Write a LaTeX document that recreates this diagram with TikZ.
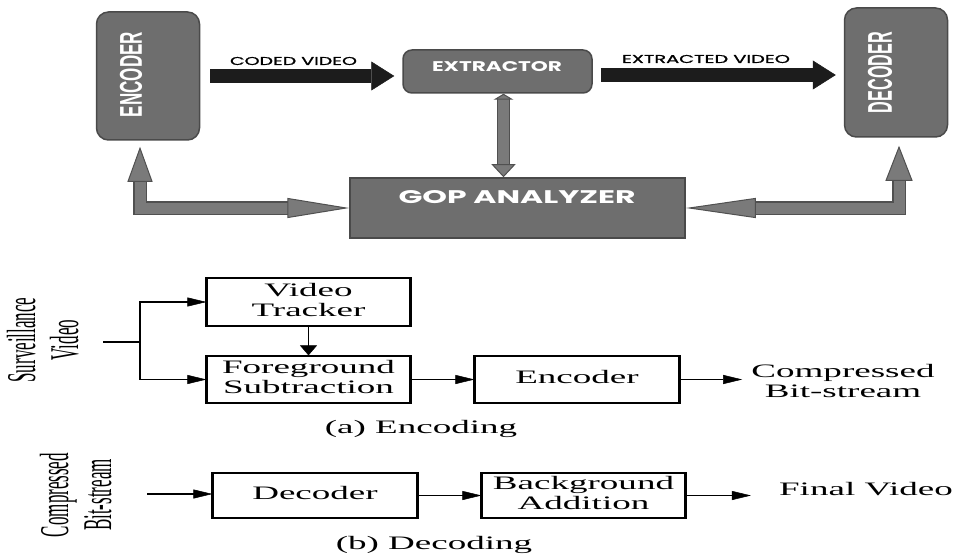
\documentclass[tikz,border=0pt]{standalone}
\usepackage{fontspec}
\setmainfont{Liberation Serif}
\newfontfamily\popfont{Poppins}
\newfontfamily\popmed[FakeBold=1]{Poppins}
\newfontfamily\arialfont{Liberation Sans}
\usetikzlibrary{arrows.meta}
\definecolor{boxgray}{HTML}{6E6E6E}
\definecolor{boxedge}{HTML}{4A4A4A}
\definecolor{arrgray}{HTML}{7A7A7A}
\definecolor{arredge}{HTML}{505050}
\definecolor{blk}{HTML}{1C1C1C}
\newcommand\wide[1]{\scalebox{1.95}[1]{\begin{tabular}{@{}c@{}}#1\end{tabular}}}
\newcommand\widerot[1]{\scalebox{2.4}[1]{\rotatebox{90}{\begin{tabular}{@{}c@{}}#1\end{tabular}}}}
\begin{document}
\begin{tikzpicture}[x=1pt,y=-1pt,
 darkbox/.style={draw=boxedge, fill=boxgray, line width=1.5pt, inner sep=0pt},
 blackarrow/.style={draw=blk, line width=14pt, -{Triangle[length=23pt,width=29pt,line width=0.5pt]}},
 grayline/.style={draw=arrgray, line width=11pt},
 toptxt/.style={inner sep=0pt},
 lowbox/.style={draw, line width=1.2pt, inner sep=0pt, minimum width=203pt, font=\fontsize{19}{20}\selectfont},
 lowtxt/.style={inner sep=0pt, font=\fontsize{19}{20}\selectfont},
 rottxt/.style={inner sep=0pt, font=\fontsize{17}{18}\selectfont},
 harr/.style={line width=1.2pt, -{Triangle[length=19pt,width=9pt,line width=0.5pt]}},
 varr/.style={line width=1.2pt, -{Triangle[length=10pt,width=17pt,line width=0.5pt]}},
 plainline/.style={line width=1.2pt},
]
\useasboundingbox (0,0) rectangle (957,556);
\fill[white] (0,0) rectangle (957,556);

% ---------- top diagram ----------
\node[darkbox, rounded corners=12pt, minimum width=103pt, minimum height=128pt] (enc) at (148,76) {};
\node[darkbox, rounded corners=12pt, minimum width=103pt, minimum height=129pt] (dec) at (896,72.5) {};
\node[darkbox, rounded corners=9pt, minimum width=189pt, minimum height=43pt] (ext) at (497.5,71.5) {};
\node[darkbox, minimum width=335pt, minimum height=60pt] (gop) at (517.5,208) {};

\node[toptxt, text=white] (enct) at (131,74.5) {\rotatebox{90}{\resizebox{85pt}{22pt}{\arialfont\bfseries ENCODER}}};
\node[toptxt, text=white] (dect) at (880,72.5) {\rotatebox{90}{\resizebox{81pt}{24pt}{\arialfont\bfseries DECODER}}};
\node[toptxt, text=white] (extt) at (497,67) {\resizebox{130pt}{10pt}{\popfont\bfseries EXTRACTOR}};
\node[toptxt, text=white] (gopt) at (517,197) {\resizebox{237pt}{13pt}{\popfont\bfseries GOP ANALYZER}};
\node[toptxt] (cvt) at (293.5,61) {\resizebox{127pt}{8pt}{\popmed CODED VIDEO}};
\node[toptxt] (evt) at (706,59) {\resizebox{168pt}{8pt}{\popmed EXTRACTED VIDEO}};

\draw[blackarrow, shorten <=10pt, shorten >=8pt] (enc.east) -- (enc.east -| ext.west);
\coordinate (exo) at ([yshift=-3.5pt]ext.east);
\draw[blackarrow, shorten <=8pt, shorten >=8pt] (exo) -- (exo -| dec.west);

% gray feedback arrows (outlined)
\coordinate (gl) at ([xshift=-8pt,yshift=-6pt]enc.south);
\draw[grayline,
  preaction={draw=arredge, line width=13.5pt, -, shorten <=30pt, shorten >=58pt},
  {Triangle[length=35pt,width=25pt,line width=1pt,fill=arrgray,color=arredge]}-{Triangle[length=62pt,width=20pt,line width=1pt,fill=arrgray,color=arredge]}]
  (gl) |- (gop.west);
\coordinate (gr) at ([xshift=3pt,yshift=-8pt]dec.south);
\draw[grayline,
  preaction={draw=arredge, line width=13.5pt, -, shorten <=30pt, shorten >=66pt},
  {Triangle[length=35pt,width=27pt,line width=1pt,fill=arrgray,color=arredge]}-{Triangle[length=70pt,width=20pt,line width=1pt,fill=arrgray,color=arredge]}]
  (gr) |- (gop.east);
\coordinate (gv) at ([xshift=6pt]ext.south);
\draw[grayline,
  preaction={draw=arredge, line width=13.5pt, -, shorten <=5pt, shorten >=11pt},
  {Triangle[length=6pt,width=20pt,line width=1pt,fill=arrgray,color=arredge]}-{Triangle[length=13pt,width=24pt,line width=1pt,fill=arrgray,color=arredge]}]
  (gv) -- (gv |- gop.north);

% ---------- (a) encoding ----------
\node[lowbox, minimum height=48pt] (vt) at (308.5,302) {\wide{Video\\Tracker}};
\node[lowbox, minimum height=47pt] (fs) at (308.5,379.5) {\wide{Foreground\\Subtraction}};
\node[lowbox, minimum width=204pt, minimum height=47pt] (enc2) at (577,379.5) {\wide{Encoder}};
\node[lowtxt] (cbs) at (843,383) {\wide{Compressed\\Bit-stream}};
\node[lowtxt] (lba) at (421,429) {\wide{(a) Encoding}};
\node[rottxt] (sv) at (48,340) {\widerot{Surveillance\\Video}};

\coordinate (in1) at (103,342);
\coordinate (br) at (140,342);
\draw[plainline] (in1) -- (br);
\draw[harr] (br) |- (vt.west);
\draw[harr] (br) |- (fs.west);
\draw[varr] (vt.south) -- (fs.north);
\draw[harr] (fs.east) -- (enc2.west);
\draw[harr, shorten >=9pt] (enc2.east) -- (enc2.east -| cbs.west);

% ---------- (b) decoding ----------
\node[lowbox, minimum width=204pt, minimum height=45pt] (dec2) at (315,495.5) {\wide{Decoder}};
\node[lowbox, minimum height=45pt] (bga) at (583.5,495.5) {\wide{Background\\Addition}};
\node[lowtxt] (fv) at (866,491) {\wide{Final Video}};
\node[lowtxt] (lbb) at (434,545) {\wide{(b) Decoding}};
\node[rottxt] (cbs2) at (81,495) {\widerot{Compressed\\Bit-stream}};

\coordinate (in2) at (147,494);
\draw[harr] (in2) -- (in2 -| dec2.west);
\draw[harr] (dec2.east) -- (bga.west);
\draw[harr, shorten >=28pt] (bga.east) -- (bga.east -| fv.west);

\foreach \n in {vt,fs,enc2,dec2,bga}
  \draw[line width=3pt] (\n.north west) -- (\n.south west) (\n.north east) -- (\n.south east);
\end{tikzpicture}
\end{document}
